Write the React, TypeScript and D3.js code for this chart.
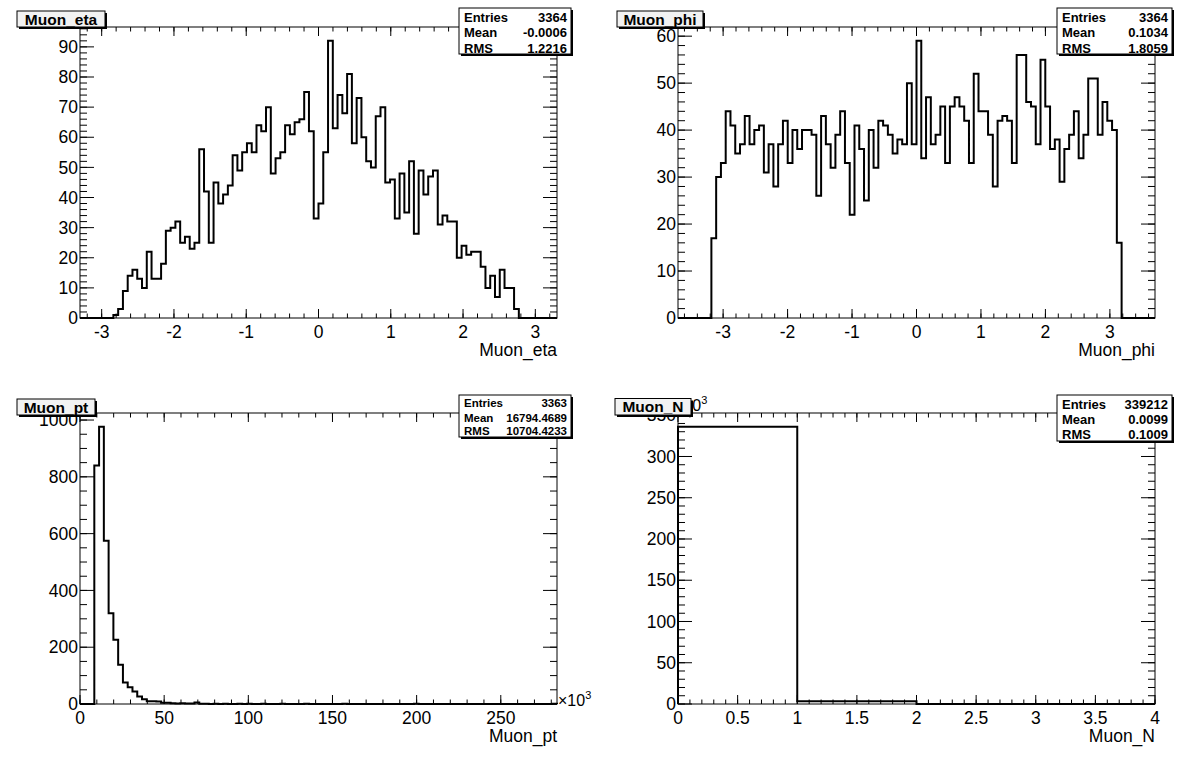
import React from 'react';
import * as d3 from 'd3';

// ---------------- DATA ----------------
const etaRange: [number, number] = [-3.3, 3.3];
const etaCounts = [
  0, 0, 0, 0, 0, 0, 0, 1, 3, 9,
  14, 16, 13, 10, 22, 13, 13, 18, 29, 30,
  32, 25, 27, 23, 25, 56, 42, 25, 45, 38,
  41, 44, 54, 49, 55, 58, 55, 64, 62, 70,
  48, 53, 55, 64, 61, 65, 66, 75, 62, 33,
  38, 55, 92, 63, 74, 68, 81, 58, 73, 60,
  52, 50, 67, 70, 45, 46, 33, 48, 35, 52,
  28, 49, 41, 47, 49, 31, 34, 32, 32, 20,
  24, 21, 22, 22, 17, 10, 14, 7, 16, 10,
  10, 3, 0, 0, 0, 0, 0, 0, 0, 0,
];

const phiRange: [number, number] = [-3.7, 3.7];
const phiCounts = [
  0, 0, 0, 0, 0, 0, 0, 17, 30, 33,
  44, 41, 35, 37, 43, 37, 40, 41, 31, 37,
  28, 37, 42, 33, 40, 36, 40, 40, 39, 26,
  43, 37, 32, 39, 44, 33, 22, 41, 36, 25,
  40, 32, 42, 41, 39, 35, 38, 37, 50, 37,
  59, 34, 47, 37, 39, 45, 33, 45, 47, 45,
  42, 33, 52, 44, 44, 39, 28, 42, 43, 42,
  33, 56, 56, 46, 45, 37, 55, 45, 36, 38,
  29, 36, 39, 44, 34, 39, 51, 51, 39, 46,
  42, 40, 16, 0, 0, 0, 0, 0, 0, 0,
];

const ptRange: [number, number] = [0, 283.4]; // in units of 10^3
const ptCounts = [
  0, 0, 0, 840, 976, 575, 320, 226, 138, 76,
  59, 44, 26, 17, 10, 10, 9, 4, 4, 3,
  2, 3, 2, 2, 5, 1, 1, 0, 1, 0,
  1, 0, 0, 1, 0, 1, 0, 0, 1, 0,
  0, 0, 1, 0, 0, 0, 0, 1, 0, 0,
  0, 0, 0, 0, 0, 1, 0, 0, 0, 0,
  0, 0, 0, 0, 0, 0, 0, 0, 0, 0,
  1, 0, 0, 0, 0, 0, 0, 0, 0, 0,
  0, 0, 0, 0, 0, 0, 0, 0, 0, 0,
  0, 0, 0, 0, 0, 0, 0, 0, 0, 1,
];

const nRange: [number, number] = [0, 4];
const nCounts = [335910, 3241, 61, 0];

const statLabels = ['Entries', 'Mean', 'RMS'];
const etaStats = ['3364', '-0.0006', '1.2216'];
const phiStats = ['3364', '0.1034', '1.8059'];
const ptStats = ['3363', '16794.4689', '10704.4233'];
const nStats = ['339212', '0.0099', '0.1009'];

// ---------------- RENDERING ----------------
const FONT = "'Liberation Sans', Arial, Helvetica, sans-serif";

function tickValues(lo: number, hi: number, step: number) {
  const s = Math.ceil(lo / step - 1e-9);
  const e = Math.floor(hi / step + 1e-9);
  return d3.range(s, e + 1).map((k) => +(k * step).toFixed(6));
}

type Panel = {
  counts: number[];
  range: [number, number];
  frame: { x0: number; x1: number; y0: number; y1: number };
  xMajor: number;
  xMinor: number;
  yMajor: number;
  yMinor: number;
  yDiv: number;
  xTitle: string;
  title: string;
  titleBox: { x: number; y: number; w: number; h: number };
  stats: string[];
  statBox: { x: number; y: number; w: number; h: number; fs: number; rows: number[] };
  xExp?: { x: number; y: number };
  yExp?: { x: number; y: number };
};

function Hist({ p }: { p: Panel }) {
  const f = p.frame;
  const x = d3.scaleLinear().domain(p.range).range([f.x0, f.x1]);
  const ymax = (d3.max(p.counts) as number) * 1.05;
  const y = d3.scaleLinear().domain([0, ymax]).range([f.y1, f.y0]);
  const n = p.counts.length;
  const bw = (p.range[1] - p.range[0]) / n;
  const pts: [number, number][] = [[p.range[0], 0]];
  p.counts.forEach((c, i) => pts.push([p.range[0] + i * bw, c]));
  pts.push([p.range[1], p.counts[n - 1]]);
  pts.push([p.range[1], 0]);
  const line = d3
    .line<[number, number]>()
    .x((d) => x(d[0]))
    .y((d) => y(d[1]))
    .curve(d3.curveStepAfter);

  const xMaj = tickValues(p.range[0], p.range[1], p.xMajor);
  const xMin = tickValues(p.range[0], p.range[1], p.xMinor);
  const yMaj = tickValues(0, ymax, p.yMajor);
  const yMin = tickValues(0, ymax, p.yMinor);
  const xMajLen = 9, xMinLen = 4.5, yMajLen = 14, yMinLen = 7;

  const sb = p.statBox;
  const tb = p.titleBox;
  return (
    <g>
      <rect x={f.x0} y={f.y0} width={f.x1 - f.x0} height={f.y1 - f.y0} fill="none" stroke="#000" strokeWidth={1} />
      {xMin.map((v, i) => (
        <g key={'xm' + i}>
          <line x1={x(v)} x2={x(v)} y1={f.y1} y2={f.y1 - xMinLen} stroke="#000" />
          <line x1={x(v)} x2={x(v)} y1={f.y0} y2={f.y0 + xMinLen} stroke="#000" />
        </g>
      ))}
      {xMaj.map((v, i) => (
        <g key={'xM' + i}>
          <line x1={x(v)} x2={x(v)} y1={f.y1} y2={f.y1 - xMajLen} stroke="#000" />
          <line x1={x(v)} x2={x(v)} y1={f.y0} y2={f.y0 + xMajLen} stroke="#000" />
          <text x={x(v)} y={f.y1 + 19.5} textAnchor="middle" fontSize={17.5} fontFamily={FONT}>
            {String(v)}
          </text>
        </g>
      ))}
      {yMin.map((v, i) => (
        <g key={'ym' + i}>
          <line x1={f.x0} x2={f.x0 + yMinLen} y1={y(v)} y2={y(v)} stroke="#000" />
          <line x1={f.x1} x2={f.x1 - yMinLen} y1={y(v)} y2={y(v)} stroke="#000" />
        </g>
      ))}
      {yMaj.map((v, i) => (
        <g key={'yM' + i}>
          <line x1={f.x0} x2={f.x0 + yMajLen} y1={y(v)} y2={y(v)} stroke="#000" />
          <line x1={f.x1} x2={f.x1 - yMajLen} y1={y(v)} y2={y(v)} stroke="#000" />
          <text x={f.x0 - 2} y={y(v) + 6.2} textAnchor="end" fontSize={17.5} fontFamily={FONT}>
            {String(+(v / p.yDiv).toFixed(6))}
          </text>
        </g>
      ))}
      <path d={line(pts) || ''} fill="none" stroke="#000" strokeWidth={2} />
      <text x={f.x1} y={f.y1 + 38} textAnchor="end" fontSize={17.5} fontFamily={FONT}>
        {p.xTitle}
      </text>
      {p.xExp && (
        <text x={p.xExp.x} y={p.xExp.y} fontSize={16} fontFamily={FONT}>
          ×10<tspan fontSize={11} dy={-7}>3</tspan>
        </text>
      )}
      {p.yExp && (
        <text x={p.yExp.x} y={p.yExp.y} fontSize={16} fontFamily={FONT}>
          ×10<tspan fontSize={11} dy={-7}>3</tspan>
        </text>
      )}
      <rect x={tb.x + 2} y={tb.y + 2} width={tb.w} height={tb.h} fill="#000" />
      <rect x={tb.x} y={tb.y} width={tb.w} height={tb.h} fill="#f2f2f2" stroke="#000" strokeWidth={1} />
      <text x={tb.x + tb.w / 2} y={tb.y + tb.h / 2 + 5.5} textAnchor="middle" fontSize={15.5} fontWeight="bold" fontFamily={FONT}>
        {p.title}
      </text>
      <rect x={sb.x + 2} y={sb.y + 2} width={sb.w} height={sb.h} fill="#000" />
      <rect x={sb.x} y={sb.y} width={sb.w} height={sb.h} fill="#fff" stroke="#000" strokeWidth={1} />
      {statLabels.map((lab, i) => (
        <g key={'st' + i}>
          <text x={sb.x + 5} y={sb.rows[i]} fontSize={sb.fs} fontWeight="bold" fontFamily={FONT}>
            {lab}
          </text>
          <text x={sb.x + sb.w - 4} y={sb.rows[i]} textAnchor="end" fontSize={sb.fs} fontWeight="bold" fontFamily={FONT}>
            {p.stats[i]}
          </text>
        </g>
      ))}
    </g>
  );
}

export default function App() {
  const panels: Panel[] = [
    {
      counts: etaCounts, range: etaRange,
      frame: { x0: 80, x1: 557, y0: 27, y1: 318 },
      xMajor: 1, xMinor: 0.2, yMajor: 10, yMinor: 2, yDiv: 1,
      xTitle: 'Muon_eta', title: 'Muon_eta',
      titleBox: { x: 17, y: 11, w: 88, h: 16 },
      stats: etaStats,
      statBox: { x: 459, y: 8, w: 112, h: 46, fs: 13, rows: [21.8, 37.2, 52.6] },
    },
    {
      counts: phiCounts, range: phiRange,
      frame: { x0: 678, x1: 1155, y0: 27, y1: 318 },
      xMajor: 1, xMinor: 0.2, yMajor: 10, yMinor: 2, yDiv: 1,
      xTitle: 'Muon_phi', title: 'Muon_phi',
      titleBox: { x: 617, y: 11, w: 86, h: 16 },
      stats: phiStats,
      statBox: { x: 1057, y: 8, w: 115, h: 46, fs: 13, rows: [21.8, 37.2, 52.6] },
    },
    {
      counts: ptCounts, range: ptRange,
      frame: { x0: 80, x1: 557, y0: 413, y1: 704 },
      xMajor: 50, xMinor: 10, yMajor: 200, yMinor: 50, yDiv: 1,
      xTitle: 'Muon_pt', title: 'Muon_pt',
      titleBox: { x: 17, y: 399, w: 78, h: 16 },
      stats: ptStats,
      statBox: { x: 459, y: 395, w: 112, h: 42, fs: 11.5, rows: [407.2, 421.6, 434.8] },
      xExp: { x: 558, y: 706 },
    },
    {
      counts: nCounts, range: nRange,
      frame: { x0: 678, x1: 1155, y0: 413, y1: 704 },
      xMajor: 0.5, xMinor: 0.1, yMajor: 50000, yMinor: 10000, yDiv: 1000,
      xTitle: 'Muon_N', title: 'Muon_N',
      titleBox: { x: 615, y: 398.5, w: 76, h: 16.5 },
      stats: nStats,
      statBox: { x: 1057, y: 395, w: 115, h: 46, fs: 13, rows: [408.8, 424.4, 438.8] },
      yExp: { x: 674, y: 411 },
    },
  ];
  return (
    <svg width={1196} height={772} style={{ position: 'absolute', left: 0, top: 0 }}>
      <rect x={0} y={0} width={1196} height={772} fill="#fff" />
      {panels.map((p, i) => (
        <Hist key={i} p={p} />
      ))}
    </svg>
  );
}
